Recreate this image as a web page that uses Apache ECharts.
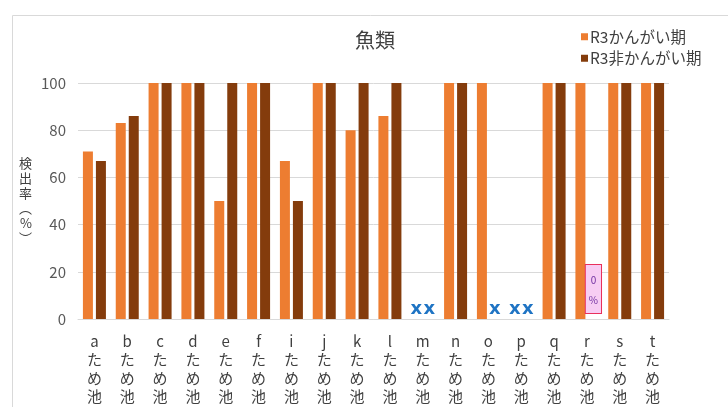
<!DOCTYPE html>
<html>
<head>
<meta charset="utf-8">
<script src="https://cdn.jsdelivr.net/npm/echarts@6/dist/echarts.min.js"></script>
<style>
  html, body { margin: 0; padding: 0; background: #fff; }
  #chart { width: 728px; height: 407px; }
</style>
</head>
<body>
<div id="chart"></div>
<script>
// 魚類 検出率 (%)
var categories = ['a', 'b', 'c', 'd', 'e', 'f', 'i', 'j', 'k', 'l', 'm', 'n', 'o', 'p', 'q', 'r', 's', 't']
// null = 未調査 (x 印)
var kangai = [71, 83, 100, 100, 50, 100, 67, 100, 80, 86, null, 100, 100, null, 100, 100, 100, 100]
var hiKangai = [67, 86, 100, 100, 100, 100, 50, 100, 100, 100, null, 100, null, null, 100, 0, 100, 100]
var yTicks = [0, 20, 40, 60, 80, 100]

var font = '"Noto Sans CJK JP", "Noto Sans", sans-serif'

// x 印と 0% の箱
var crossLabel = {
  show: true,
  position: 'top',
  distance: 1,
  formatter: 'x',
  color: '#1f74c4',
  fontSize: 18,
  fontWeight: 'bold',
  fontFamily: '"DejaVu Sans", sans-serif'
}
var zeroLabel = {
  show: true,
  position: 'top',
  distance: 6,
  formatter: '0\n%',
  color: '#7030a0',
  fontSize: 10,
  lineHeight: 20,
  fontFamily: font,
  backgroundColor: '#f7cdf3',
  borderColor: '#e8305c',
  borderWidth: 1,
  padding: [5, 3, 3, 3]
}

function toItems(values) {
  return values.map(function (v) {
    if (v === null) return { value: 0, label: crossLabel }
    if (v === 0) return { value: 0, label: zeroLabel }
    return v
  })
}

var chart = echarts.init(document.getElementById('chart'))
chart.setOption({
  animation: false,
  textStyle: { fontFamily: font },
  title: {
    text: '魚類',
    left: 370,
    top: 25,
    textAlign: 'center',
    textStyle: { fontSize: 20, fontWeight: 'normal', color: '#404040', fontFamily: font }
  },
  legend: {
    orient: 'vertical',
    left: 576,
    top: 24,
    itemWidth: 7,
    itemHeight: 7,
    itemGap: 6,
    icon: 'rect',
    textStyle: { fontSize: 15.5, color: '#404040', fontFamily: font, padding: [0, 0, 0, -3] },
    data: ['R3かんがい期', 'R3非かんがい期']
  },
  graphic: [{
    type: 'rect',
    left: 10,
    top: 13,
    shape: { width: 740, height: 420 },
    style: { fill: 'none', stroke: '#d9d9d9', lineWidth: 1 },
    silent: true
  }],
  grid: { left: 78, right: 59, top: 83, bottom: 88 },
  xAxis: {
    type: 'category',
    data: categories,
    axisTick: { show: false },
    axisLine: { lineStyle: { color: '#d9d9d9' } },
    axisLabel: {
      interval: 0,
      margin: 13,
      fontSize: 15,
      lineHeight: 18.5,
      color: '#404040',
      formatter: function (v) { return v + '\nた\nめ\n池' }
    }
  },
  yAxis: {
    type: 'value',
    min: yTicks[0],
    max: yTicks[yTicks.length - 1],
    interval: 20,
    // 縦書きの軸名
    name: '検\n出\n率\n︵\n%\n︶',
    nameLocation: 'middle',
    nameGap: 46,
    nameRotate: 0,
    nameTextStyle: {
      fontSize: 13,
      lineHeight: 15,
      color: '#404040',
      fontFamily: font,
      padding: [0, 0, 60, 0]
    },
    axisLine: { show: false },
    axisTick: { show: false },
    axisLabel: { fontSize: 15, color: '#595959', margin: 12 },
    splitLine: { lineStyle: { color: '#d9d9d9' } }
  },
  series: [
    {
      name: 'R3かんがい期',
      type: 'bar',
      barWidth: 10,
      barGap: '30%',
      itemStyle: { color: '#ed7d31' },
      data: toItems(kangai)
    },
    {
      name: 'R3非かんがい期',
      type: 'bar',
      barWidth: 10,
      itemStyle: { color: '#843c0c' },
      data: toItems(hiKangai)
    }
  ]
})
</script>
</body>
</html>
